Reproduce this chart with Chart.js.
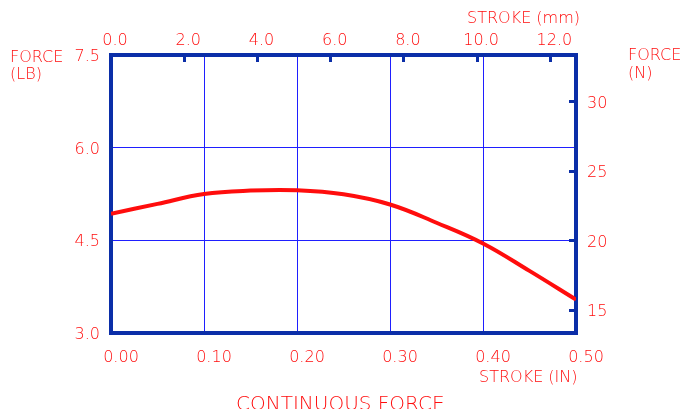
<!DOCTYPE html>
<html>
<head>
<meta charset="utf-8">
<script src="https://cdn.jsdelivr.net/npm/chart.js@4"></script>
<style>
  html, body { margin: 0; padding: 0; background: #fff; }
  #wrap { width: 687px; height: 409px; }
</style>
</head>
<body>
<div id="wrap"><canvas id="forceChart" width="687" height="409"></canvas></div>
<script>
// stroke in inches and force in pounds
var strokeIn = [0.00, 0.05, 0.10, 0.15, 0.20, 0.25, 0.30, 0.35, 0.40, 0.45, 0.50];
var forceLb = [4.93, 5.09, 5.25, 5.305, 5.31, 5.245, 5.08, 4.785, 4.45, 4.005, 3.54];

// axis ranges and the newton ticks
var strokeInRange = [0, 0.5];
var forceLbRange = [3.0, 7.5];
var strokeMmRange = [0, 0.5 * 25.4];
var forceNRange = [3.0 * 4.448, 7.5 * 4.448];
var forceNTicks = [15, 20, 25, 30];

var RED = '#ff0d0d';
var DARK = '#0b2ea8';
var GRID = '#1f1fff';
var FONT = '"DejaVu Sans", sans-serif';

var points = [];
for (var i = 0; i < strokeIn.length; i++) {
    points.push({ x: strokeIn[i], y: forceLb[i] });
}

var titles = {
    id: 'titles',
    afterDraw: function (chart) {
        var ctx = chart.ctx;
        ctx.save();
        ctx.fillStyle = RED;
        ctx.textAlign = 'left';
        ctx.textBaseline = 'alphabetic';
        ctx.font = '200 16px ' + FONT;
        ctx.fillText('FORCE', 10, 62);
        ctx.fillText('(LB)', 10, 79);
        ctx.fillText('FORCE', 628, 60);
        ctx.fillText('(N)', 628, 78);
        ctx.fillText('STROKE (mm)', 467, 23);
        ctx.fillText('STROKE (IN)', 479, 382);
        ctx.font = '200 20px ' + FONT;
        ctx.fillText('CONTINUOUS FORCE', 236, 410);
        ctx.restore();
    }
};

function fixWidth(w) {
    return function (scale) { scale.width = w; };
}
function fixHeight(h) {
    return function (scale) { scale.height = h; };
}

var tickFont = { family: FONT, size: 16, weight: 200 };

new Chart(document.getElementById('forceChart').getContext('2d'), {
    type: 'line',
    data: {
        datasets: [{
            data: points,
            borderColor: RED,
            borderWidth: 4,
            pointRadius: 0,
            fill: false,
            tension: 0.4
        }]
    },
    options: {
        responsive: false,
        animation: false,
        layout: { padding: 0 },
        plugins: { legend: { display: false }, tooltip: { enabled: false } },
        scales: {
            x: {
                type: 'linear', position: 'bottom',
                min: strokeInRange[0], max: strokeInRange[1],
                afterFit: fixHeight(76),
                grid: { color: GRID, lineWidth: 1, drawTicks: false },
                border: { color: DARK, width: 4 },
                ticks: {
                    stepSize: 0.1, color: RED, font: tickFont, padding: 15, labelOffset: 10,
                    maxRotation: 0, autoSkip: false,
                    callback: function (v) { return v.toFixed(2); }
                }
            },
            x2: {
                type: 'linear', position: 'top',
                min: strokeMmRange[0], max: strokeMmRange[1],
                afterFit: fixHeight(55),
                grid: { drawOnChartArea: false, color: DARK, lineWidth: 3, tickLength: -7 },
                border: { color: DARK, width: 4 },
                ticks: {
                    stepSize: 2, includeBounds: false, color: RED, font: tickFont, padding: 12, labelOffset: 4,
                    maxRotation: 0, autoSkip: false,
                    callback: function (v) { return v.toFixed(1); }
                }
            },
            y: {
                type: 'linear', position: 'left',
                min: forceLbRange[0], max: forceLbRange[1],
                afterFit: fixWidth(111),
                grid: { color: GRID, lineWidth: 1, drawTicks: false },
                border: { color: DARK, width: 4 },
                ticks: {
                    stepSize: 1.5, color: RED, font: tickFont, padding: 11, labelOffset: 2,
                    callback: function (v) { return v.toFixed(1); }
                }
            },
            y2: {
                type: 'linear', position: 'right',
                min: forceNRange[0], max: forceNRange[1],
                afterFit: fixWidth(111),
                afterBuildTicks: function (scale) {
                    scale.ticks = forceNTicks.map(function (v) { return { value: v }; });
                },
                grid: { drawOnChartArea: false, color: DARK, lineWidth: 3, tickLength: -7 },
                border: { color: DARK, width: 4 },
                ticks: { color: RED, font: tickFont, padding: 18, labelOffset: 2 }
            }
        }
    },
    plugins: [titles]
});
</script>
</body>
</html>
